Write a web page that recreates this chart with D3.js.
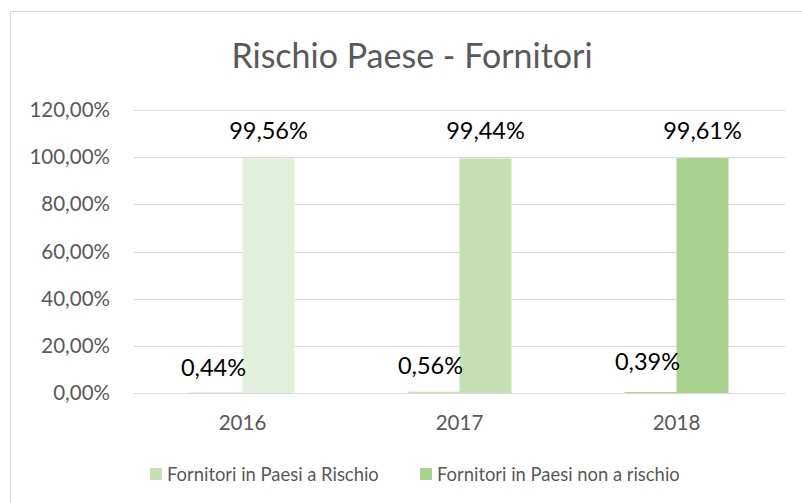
<!DOCTYPE html>
<html>
<head>
<meta charset="utf-8">
<script src="https://cdn.jsdelivr.net/npm/d3@7"></script>
<style>
  html, body { margin: 0; padding: 0; background: #fff; }
  svg { display: block; font-family: Lato, "Open Sans", sans-serif; }
</style>
</head>
<body>
<div id="chart"></div>
<script>
'use strict';

// chart data
var title = "Rischio Paese - Fornitori";
var years = ["2016", "2017", "2018"];
var seriesNames = ["Fornitori in Paesi a Rischio", "Fornitori in Paesi non a rischio"];
var rischio = [0.0044, 0.0056, 0.0039];
var nonRischio = [0.9956, 0.9944, 0.9961];
var yTicks = [0, 0.2, 0.4, 0.6, 0.8, 1.0, 1.2];

// colours vary by point, legend uses the series colours
var pointColors = ["#e2efda", "#c5e0b4", "#a9d18e"];
var legendColors = ["#c5e0b4", "#a9d18e"];

var width = 802, height = 503;
var plot = { left: 134, right: 785, top: 110, bottom: 393 };

var it = d3.formatLocale({ decimal: ",", thousands: ".", grouping: [3], currency: ["", " €"] });
var pct = it.format(".2%");

var svg = d3.select("#chart").append("svg")
    .attr("width", width)
    .attr("height", height);

// outer chart border
svg.append("rect")
    .attr("x", 10.5)
    .attr("y", 11.5)
    .attr("width", width)
    .attr("height", height)
    .attr("fill", "#fff")
    .attr("stroke", "#d9d9d9")
    .attr("stroke-width", 1);

svg.append("text")
    .attr("x", 412)
    .attr("y", 68)
    .attr("text-anchor", "middle")
    .style("font-size", "34px")
    .style("fill", "#595959")
    .text(title);

var x0 = d3.scaleBand()
    .domain(years)
    .range([plot.left, plot.right]);

var x1 = d3.scaleBand()
    .domain(seriesNames)
    .range([0, x0.bandwidth()])
    .paddingOuter(1.087);

var y = d3.scaleLinear()
    .domain([0, 1.2])
    .range([plot.bottom, plot.top]);

// gridlines
svg.append("g")
    .selectAll("line")
    .data(yTicks)
    .join("line")
    .attr("x1", plot.left)
    .attr("x2", plot.right)
    .attr("y1", function (d) { return Math.round(y(d)) + 0.5; })
    .attr("y2", function (d) { return Math.round(y(d)) + 0.5; })
    .attr("stroke", "#d9d9d9")
    .attr("stroke-width", 1.2);

// y axis labels
var yAxis = svg.append("g")
    .attr("transform", "translate(" + (plot.left - 24) + ",0)")
    .call(d3.axisLeft(y).tickValues(yTicks).tickFormat(pct).tickSize(0).tickPadding(0));
yAxis.select(".domain").remove();
yAxis.selectAll("text")
    .style("font-family", "Lato, sans-serif")
    .style("font-size", "20.5px")
    .style("fill", "#595959");

// x axis labels
var xAxis = svg.append("g")
    .attr("transform", "translate(0," + plot.bottom + ")")
    .call(d3.axisBottom(x0).tickSize(0).tickPadding(22));
xAxis.select(".domain").remove();
xAxis.selectAll("text")
    .style("font-family", "Lato, sans-serif")
    .style("font-size", "20.5px")
    .style("fill", "#595959");

var rows = years.map(function (yr, i) {
    return { year: yr, idx: i, values: [rischio[i], nonRischio[i]] };
});

var groups = svg.append("g")
    .selectAll("g")
    .data(rows)
    .join("g")
    .attr("transform", function (d) { return "translate(" + x0(d.year) + ",0)"; });

groups.selectAll("rect")
    .data(function (d) {
        return d.values.map(function (v, s) { return { key: seriesNames[s], value: v, idx: d.idx, s: s }; });
    })
    .join("rect")
    .attr("x", function (d) { return x1(d.key); })
    .attr("width", x1.bandwidth())
    .attr("y", function (d) { return y(d.value); })
    .attr("height", function (d) { return plot.bottom - y(d.value); })
    .attr("fill", function (d) { return pointColors[d.idx]; });

// data labels (small ones were dragged slightly in the original)
var smallLift = [17, 19, 23];
groups.selectAll("text.lbl")
    .data(function (d) {
        return d.values.map(function (v, s) { return { key: seriesNames[s], value: v, idx: d.idx, s: s }; });
    })
    .join("text")
    .attr("class", "lbl")
    .attr("x", function (d) { return x1(d.key) + x1.bandwidth() / 2 + (d.s === 0 ? -3 : 0); })
    .attr("y", function (d) { return d.s === 0 ? plot.bottom - smallLift[d.idx] : y(d.value) - 19; })
    .attr("text-anchor", "middle")
    .style("font-size", "23.5px")
    .style("fill", "#000")
    .text(function (d) { return pct(d.value); });

// legend
var legendX = [150, 420];
var legend = svg.append("g")
    .selectAll("g")
    .data(seriesNames)
    .join("g")
    .attr("transform", function (d, i) { return "translate(" + legendX[i] + ",468)"; });

legend.append("rect")
    .attr("width", 12)
    .attr("height", 12)
    .attr("fill", function (d, i) { return legendColors[i]; });

legend.append("text")
    .attr("x", 17)
    .attr("y", 12.5)
    .style("font-size", "18.4px")
    .style("fill", "#595959")
    .text(function (d) { return d; });
</script>
</body>
</html>
